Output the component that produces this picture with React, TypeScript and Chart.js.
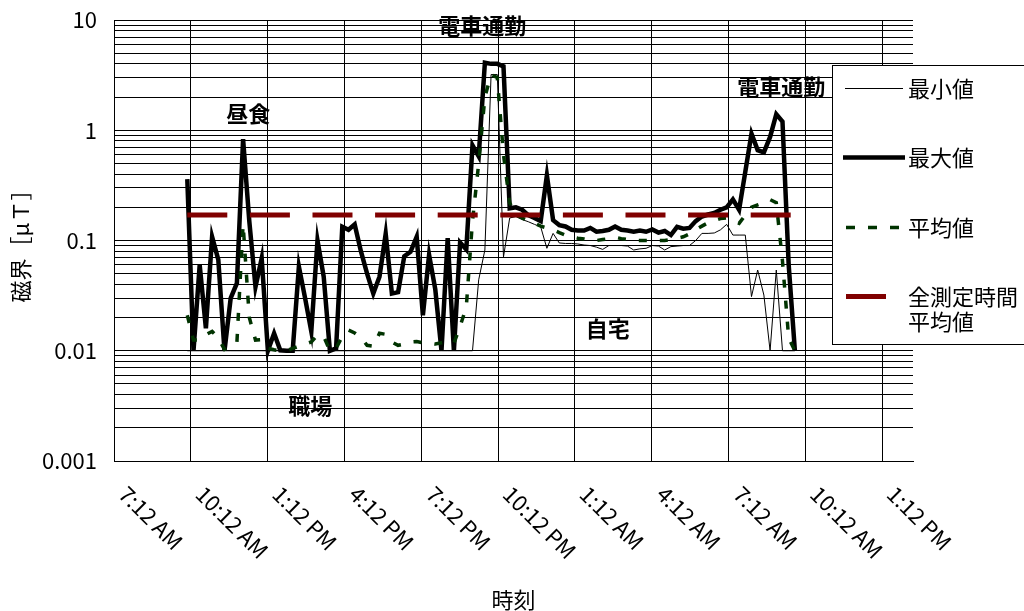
import React, { useEffect, useRef } from "react";
import { Chart, registerables } from "chart.js";

Chart.register(...registerables);

const FONT = '"Noto Sans CJK JP", "Noto Sans", sans-serif';

// X axis: hours after 7:12 AM
const X_TICK_HOURS = [0, 3, 6, 9, 12, 15, 18, 21, 24, 27, 30];
const X_TICK_LABELS = [
  "7:12 AM", "10:12 AM", "1:12 PM", "4:12 PM", "7:12 PM", "10:12 PM",
  "1:12 AM", "4:12 AM", "7:12 AM", "10:12 AM", "1:12 PM",
];
const X_MAX_HOURS = 31.2;

// Y axis (log)
const Y_MAJOR_VALUES = [0.001, 0.01, 0.1, 1, 10];
const Y_TICK_LABELS = ["0.001", "0.01", "0.1", "1", "10"];

// sampling of the measurement (hours after 7:12 AM)
const START_HOURS = 2.862;
const STEP_HOURS = 0.2421;

const MIN_VALUES = [
  0.01, 0.01, 0.01, 0.01, 0.01, 0.01, 0.01, 0.01, 0.01, 0.01,
  0.01, 0.01, 0.01, 0.01, 0.01, 0.01, 0.01, 0.01, 0.01, 0.01,
  0.01, 0.01, 0.01, 0.01, 0.01, 0.01, 0.01, 0.01, 0.01, 0.01,
  0.01, 0.01, 0.01, 0.01, 0.01, 0.01, 0.01, 0.01, 0.01, 0.01,
  0.01, 0.01, 0.01, 0.01, 0.01, 0.01, 0.01, 0.044, 0.082, 3.2,
  3.2, 0.071, 0.16, 0.165, 0.155, 0.148, 0.14, 0.133, 0.085, 0.116,
  0.095, 0.094, 0.094, 0.093, 0.091, 0.09, 0.087, 0.083, 0.09, 0.09,
  0.09, 0.089, 0.082, 0.084, 0.085, 0.09, 0.089, 0.082, 0.088, 0.089,
  0.09, 0.09, 0.1, 0.116, 0.116, 0.117, 0.125, 0.14, 0.112, 0.112,
  0.112, 0.031, 0.054, 0.032, 0.01, 0.054, 0.01, 0.01, 0.01,
];

const MAX_VALUES = [
  0.36, 0.01, 0.06, 0.016, 0.108, 0.067, 0.01, 0.03, 0.041, 0.83,
  0.15, 0.038, 0.069, 0.01, 0.0144, 0.0101, 0.01, 0.01, 0.058, 0.03,
  0.015, 0.1, 0.047, 0.01, 0.0105, 0.133, 0.125, 0.14, 0.08, 0.05,
  0.033, 0.047, 0.115, 0.033, 0.034, 0.072, 0.079, 0.108, 0.021, 0.074,
  0.036, 0.01, 0.105, 0.01, 0.096, 0.083, 0.73, 0.58, 4.1, 4.0,
  4.0, 3.8, 0.196, 0.2, 0.19, 0.17, 0.16, 0.15, 0.39, 0.153,
  0.138, 0.134, 0.125, 0.123, 0.123, 0.13, 0.12, 0.122, 0.125, 0.134,
  0.125, 0.123, 0.12, 0.123, 0.12, 0.126, 0.118, 0.122, 0.112, 0.133,
  0.128, 0.13, 0.15, 0.165, 0.172, 0.178, 0.19, 0.2, 0.236, 0.19,
  0.42, 0.93, 0.66, 0.63, 0.87, 1.4, 1.2, 0.06, 0.01,
];

const AVG_VALUES = [
  0.021, 0.0125, 0.0125, 0.014, 0.015, 0.013, 0.0103, 0.011, 0.0118, 0.14,
  0.02, 0.0125, 0.0126, 0.0105, 0.0102, 0.01, 0.01, 0.0105, 0.011, 0.0115,
  0.012, 0.0139, 0.0135, 0.01, 0.0105, 0.0135, 0.0154, 0.0145, 0.0132, 0.0112,
  0.011, 0.0144, 0.0141, 0.012, 0.0112, 0.0115, 0.012, 0.0121, 0.0118, 0.0117,
  0.0115, 0.0118, 0.0121, 0.0117, 0.0166, 0.025, 0.15, 0.5, 2.0, 3.2,
  3.0, 0.6, 0.22, 0.17, 0.16, 0.15, 0.143, 0.135, 0.13, 0.125,
  0.118, 0.112, 0.108, 0.105, 0.103, 0.1, 0.1, 0.102, 0.104, 0.107,
  0.104, 0.102, 0.1, 0.1, 0.1, 0.1, 0.1, 0.1, 0.102, 0.105,
  0.108, 0.115, 0.125, 0.135, 0.145, 0.152, 0.158, 0.16, 0.15, 0.143,
  0.17, 0.2, 0.21, 0.22, 0.235, 0.22, 0.065, 0.013, 0.01,
];

const OVERALL_AVERAGE = 0.17;

const SERIES_LABELS = ["最小値", "最大値", "平均値", "全測定時間平均値"];
const LEGEND_LINES = [["最小値"], ["最大値"], ["平均値"], ["全測定時間", "平均値"]];

const ANNOTATIONS = [
  { text: "電車通勤", hour: 14.38, value: 8.9 },
  { text: "昼食", hour: 5.24, value: 1.4 },
  { text: "電車通勤", hour: 26.06, value: 2.47 },
  { text: "自宅", hour: 19.28, value: 0.0159 },
  { text: "職場", hour: 7.66, value: 0.00315 },
];

const X_TITLE = "時刻";
const Y_TITLE = "磁界［μＴ］";

function buildYGrid(): number[] {
  const out: number[] = [];
  for (let e = -3; e <= 0; e++) {
    for (let m = 1; m <= 9; m++) out.push(Number((m * Math.pow(10, e)).toPrecision(3)));
  }
  out.push(10);
  return out;
}

const overlayPlugin = {
  id: "overlay",
  afterDraw(chart: any) {
    const ctx = chart.ctx;
    const xs = chart.scales.x;
    const ys = chart.scales.y;
    const area = chart.chartArea;
    ctx.save();
    // rotated x tick labels
    ctx.fillStyle = "#000";
    ctx.font = `22px ${FONT}`;
    ctx.textAlign = "left";
    ctx.textBaseline = "middle";
    X_TICK_HOURS.forEach((h, i) => {
      const px = xs.getPixelForValue(h);
      ctx.save();
      ctx.translate(px + 9, area.bottom + 29);
      ctx.rotate(Math.PI / 4);
      ctx.fillText(X_TICK_LABELS[i], 0, 0);
      ctx.restore();
    });
    // annotations
    ctx.font = `bold 22px ${FONT}`;
    ctx.textAlign = "center";
    ANNOTATIONS.forEach((a) => {
      ctx.fillText(a.text, xs.getPixelForValue(a.hour), ys.getPixelForValue(a.value));
    });
    // legend
    const lx = 832, ly = 65, lw = 200, lh = 279;
    ctx.fillStyle = "#fff";
    ctx.fillRect(lx, ly, lw, lh);
    ctx.strokeStyle = "#000";
    ctx.lineWidth = 1;
    ctx.strokeRect(lx + 0.5, ly + 0.5, lw, lh);
    const ds = chart.data.datasets;
    const rows = [88, 157, 227, 296];
    const sampleX = [[845, 903], [843, 905], [846, 900], [846, 886]];
    ds.forEach((d: any, i: number) => {
      ctx.save();
      ctx.strokeStyle = d.borderColor;
      ctx.lineWidth = d.borderWidth;
      ctx.lineCap = "butt";
      if (i === 2) ctx.setLineDash([9, 13]);
      ctx.beginPath();
      ctx.moveTo(sampleX[i][0], rows[i] + 0.5);
      ctx.lineTo(sampleX[i][1], rows[i] + 0.5);
      ctx.stroke();
      ctx.restore();
      ctx.fillStyle = "#000";
      ctx.font = `22px ${FONT}`;
      ctx.textAlign = "left";
      ctx.textBaseline = "middle";
      LEGEND_LINES[i].forEach((t, k) => ctx.fillText(t, 908, rows[i] + 1 + k * 25));
    });
    ctx.restore();
  },
};

export default function App() {
  const ref = useRef<HTMLCanvasElement | null>(null);
  useEffect(() => {
    if (!ref.current) return;
    Chart.defaults.font.family = FONT;
    Chart.defaults.color = "#000";
    const times = MAX_VALUES.map((_, i) => START_HOURS + STEP_HOURS * i);
    const pts = (vals: number[]) => vals.map((v, i) => ({ x: times[i], y: v }));
    const yGrid = buildYGrid();
    const chart = new Chart(ref.current, {
      type: "line",
      data: {
        datasets: [
          { label: SERIES_LABELS[0], data: pts(MIN_VALUES), borderColor: "#000000", borderWidth: 1, order: 4 },
          { label: SERIES_LABELS[1], data: pts(MAX_VALUES), borderColor: "#000000", borderWidth: 4.5, order: 3 },
          { label: SERIES_LABELS[2], data: pts(AVG_VALUES), borderColor: "#003300", borderWidth: 3.5, borderDash: [8, 13], order: 2 },
          {
            label: SERIES_LABELS[3],
            data: [
              { x: times[0], y: OVERALL_AVERAGE },
              { x: times[times.length - 1], y: OVERALL_AVERAGE },
            ],
            borderColor: "#800000",
            borderWidth: 5,
            borderDash: [40, 22.6],
            order: 1,
          },
        ] as any,
      },
      options: {
        responsive: false,
        animation: false,
        layout: { padding: { top: 20, right: 111, left: 0, bottom: 0 } },
        plugins: { legend: { display: false }, tooltip: { enabled: false } },
        elements: {
          line: { tension: 0, borderCapStyle: "butt", borderJoinStyle: "miter", fill: false },
          point: { radius: 0 },
        },
        scales: {
          x: {
            type: "linear",
            min: 0,
            max: X_MAX_HOURS,
            afterBuildTicks: (s: any) => {
              s.ticks = X_TICK_HOURS.map((v) => ({ value: v }));
            },
            afterFit: (s: any) => {
              s.height = 150;
              s.paddingLeft = 0;
              s.paddingRight = 0;
            },
            ticks: { display: false },
            grid: { color: "#000", lineWidth: 1, drawTicks: false },
            border: { color: "#000" },
            title: {
              display: true,
              text: X_TITLE,
              color: "#000",
              font: { family: FONT, size: 22, lineHeight: 1 },
              padding: { top: 0, bottom: 0 },
            },
          },
          y: {
            type: "logarithmic",
            min: 0.001,
            max: 10,
            afterBuildTicks: (s: any) => {
              s.ticks = yGrid.map((v) => ({ value: v }));
            },
            afterFit: (s: any) => {
              s.width = 114;
              s.paddingTop = 0;
              s.paddingBottom = 0;
            },
            ticks: {
              autoSkip: false,
              padding: 17,
              color: "#000",
              font: { family: FONT, size: 22 },
              callback: (v: any) => {
                const idx = Y_MAJOR_VALUES.findIndex((m) => Math.abs(m - Number(v)) / m < 1e-6);
                return idx >= 0 ? Y_TICK_LABELS[idx] : "";
              },
            },
            grid: { color: "#000", lineWidth: 1, drawTicks: false },
            border: { color: "#000" },
            title: {
              display: true,
              text: Y_TITLE,
              color: "#000",
              font: { family: FONT, size: 22, lineHeight: 1 },
              padding: { top: 10, bottom: 0 },
            },
          },
        } as any,
      },
      plugins: [overlayPlugin],
    });
    return () => chart.destroy();
  }, []);
  return (
    <div style={{ position: "absolute", left: 0, top: 0, width: 1024, height: 611, background: "#fff" }}>
      <canvas ref={ref} width={1024} height={611} style={{ display: "block" }} />
    </div>
  );
}
